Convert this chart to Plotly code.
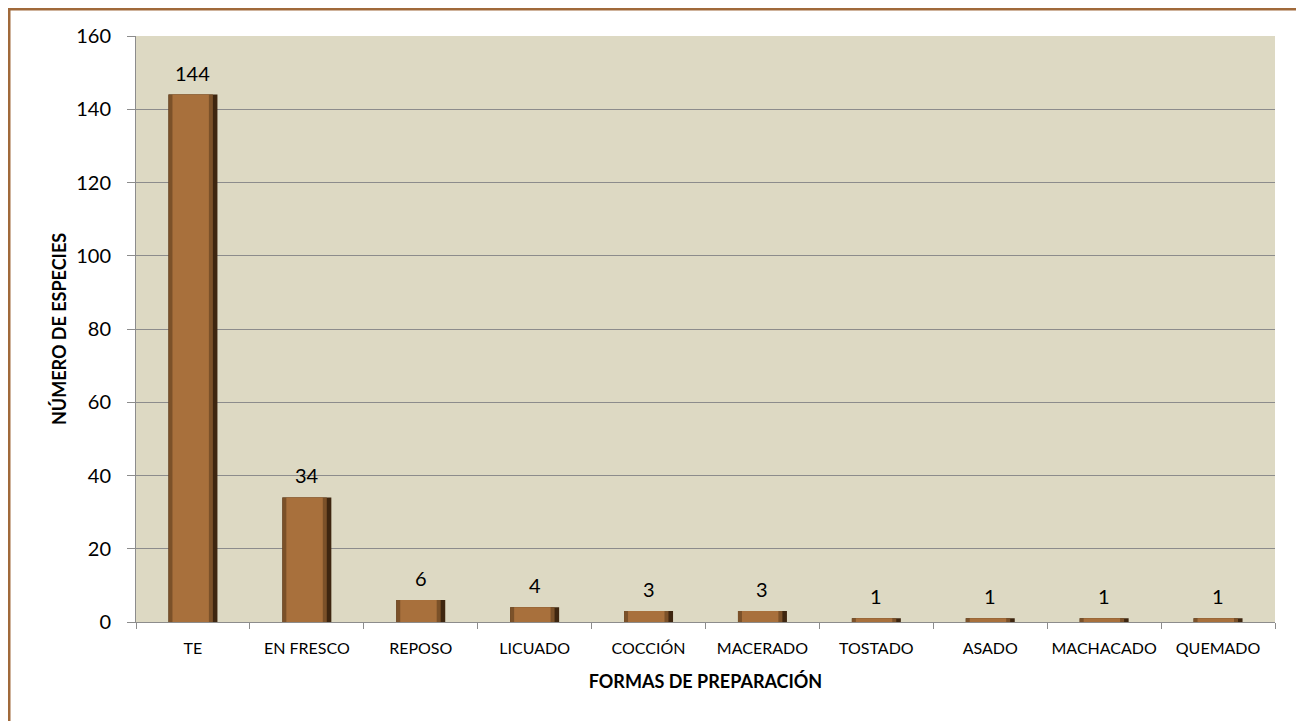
import plotly.graph_objects as go

categories = ["TE", "EN FRESCO", "REPOSO", "LICUADO", "COCCIÓN", "MACERADO",
              "TOSTADO", "ASADO", "MACHACADO", "QUEMADO"]
values = [144, 34, 6, 4, 3, 3, 1, 1, 1, 1]
y_ticks = [0, 20, 40, 60, 80, 100, 120, 140, 160]

FONT = "Lato"
W, H = 1304, 721
ml, mr, mt, mb = 128, 37, 28, 107
pw, ph = W - ml - mr, H - mt - mb

fig = go.Figure()
# dark outer bar (right edge shadow)
fig.add_trace(go.Bar(x=categories, y=values, width=0.43,
                     marker=dict(color="#3E2610", line=dict(width=0)),
                     hoverinfo="skip", showlegend=False))
# left edge, mid tone
fig.add_trace(go.Bar(x=categories, y=values, width=0.39, offset=-0.215,
                     marker=dict(color="#7B5129", line=dict(width=0)),
                     hoverinfo="skip", showlegend=False))
# main body
fig.add_trace(go.Bar(x=categories, y=values, width=0.32, offset=-0.18,
                     marker=dict(color="#A8703C", line=dict(width=0)),
                     showlegend=False))

for c, v in zip(categories, values):
    fig.add_annotation(x=c, y=v, text=str(v), showarrow=False, yshift=22,
                       font=dict(family=FONT, size=20, color="#000000"))

fig.update_layout(
    width=W, height=H,
    margin=dict(l=ml, r=mr, t=mt, b=mb),
    paper_bgcolor="white", plot_bgcolor="#DDD9C3",
    barmode="overlay",
    font=dict(family=FONT, color="#000000"),
    xaxis=dict(
        tickfont=dict(size=16), tickangle=0, tickson="boundaries", ticks="outside",
        ticklen=6, tickcolor="#8C8C8C", showline=True, linecolor="#8C8C8C",
        linewidth=1, showgrid=False, ticklabelstandoff=12,
        title=dict(text="<b>FORMAS DE PREPARACIÓN</b>", font=dict(size=18), standoff=19),
    ),
    yaxis=dict(
        range=[0, 160], tickvals=y_ticks, tickfont=dict(size=20),
        ticks="outside", ticklen=8, tickcolor="#8C8C8C",
        showline=True, linecolor="#8C8C8C", linewidth=1, ticklabelstandoff=12,
        showgrid=True, gridcolor="#8C8C8C", gridwidth=1, zeroline=False,
        title=dict(text="<b>NÚMERO DE ESPECIES</b>", font=dict(size=18), standoff=4),
    ),
)

# outer frame of the chart
x0 = (1 - ml) / pw
x1 = (1294 - ml) / pw
y1 = (H - mb - 1) / ph
y0 = (H - mb - 740) / ph
fig.add_shape(type="rect", xref="paper", yref="paper", x0=x0, x1=x1, y0=y0, y1=y1,
              line=dict(color="#A0693A", width=3), fillcolor="rgba(0,0,0,0)", layer="below")

fig.write_html("out.html")
